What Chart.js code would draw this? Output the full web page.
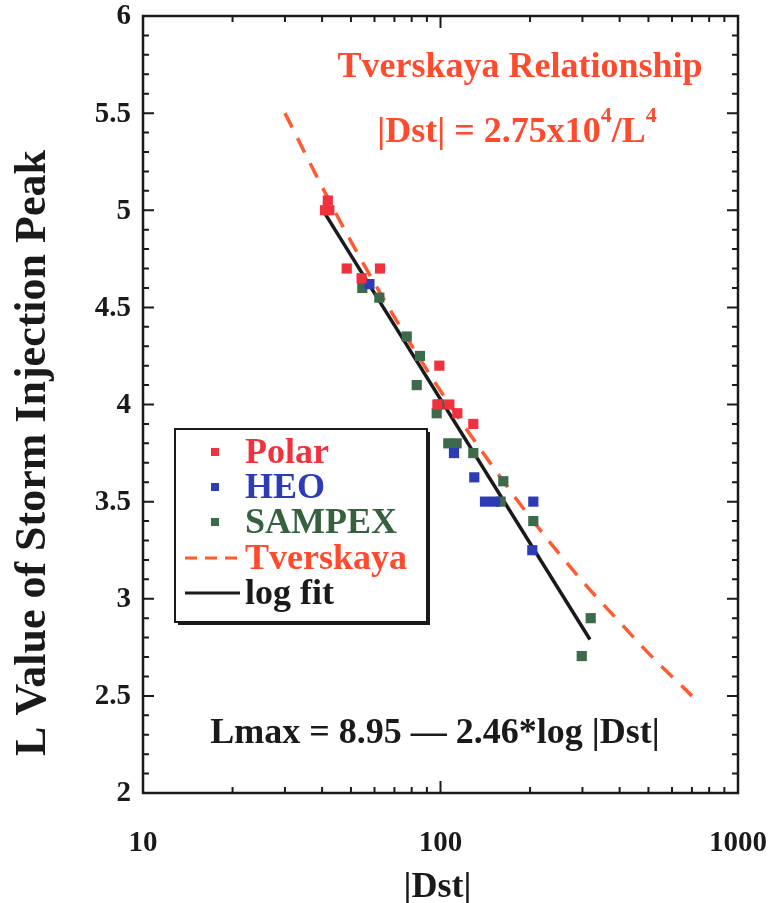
<!DOCTYPE html>
<html>
<head>
<meta charset="utf-8">
<script src="https://cdn.jsdelivr.net/npm/chart.js@4.4.1/dist/chart.umd.min.js"></script>
<style>
  html, body { margin: 0; padding: 0; background: #fff; }
  #wrap { width: 769px; height: 903px; }
</style>
</head>
<body>
<div id="wrap"><canvas id="chart" width="769" height="903"></canvas></div>
<script>
// Storm injection peaks: |Dst| (nT) vs L, one pair of arrays per mission
const polarDst = [40.9, 42.3, 41.8, 48.4, 62.6, 54.3, 99.1, 97.6, 107.1, 113.9, 128.9];
const polarL   = [5.00, 5.00, 5.05, 4.70, 4.70, 4.65, 4.20, 4.00, 4.00, 3.955, 3.90];

const heoDst = [57.7, 111, 129.9, 141.1, 152.5, 205.1, 203.5];
const heoL   = [4.62, 3.75, 3.625, 3.50, 3.50, 3.50, 3.25];

const sampexDst = [54.6, 62.3, 77.0, 85.3, 83.2, 99.1, 97.1, 106.2, 113.3, 128.9, 162.6, 159.3, 205.1, 319.8, 298.4];
const sampexL   = [4.60, 4.55, 4.35, 4.25, 4.10, 4.00, 3.955, 3.80, 3.80, 3.75, 3.605, 3.50, 3.40, 2.90, 2.705];

// Tverskaya relationship |Dst| = 2.75x10^4 / L^4
const tverDst = [30, 40, 50, 70, 100, 150, 200, 300, 400, 500, 700];
const tverL   = [5.50, 5.12, 4.84, 4.45, 4.07, 3.68, 3.42, 3.09, 2.88, 2.72, 2.50];

// log fit Lmax = 8.95 - 2.46*log|Dst|
const fitDst = [41, 318];
const fitL   = [4.98, 2.79];

const xTickValues = [10, 100, 1000];
const xMinorValues = [20, 30, 40, 50, 60, 70, 80, 90, 200, 300, 400, 500, 600, 700, 800, 900];
const yTickLabels = ['2', '2.5', '3', '3.5', '4', '4.5', '5', '5.5', '6'];

const SERIF = '"Liberation Serif", "Times New Roman", serif';
const INK = '#1a1a1a';

const pairs = (xs, ys) => xs.map((x, i) => ({ x: x, y: ys[i] }));

// frame, inward ticks on all four sides, tick labels
const framePlugin = {
  id: 'frame',
  afterDatasetsDraw(chart) {
    const { ctx, chartArea: a, scales } = chart;
    const xs = scales.x, ys = scales.y;
    ctx.save();
    ctx.strokeStyle = INK;
    ctx.lineWidth = 2;
    ctx.beginPath();
    xTickValues.forEach(v => {
      const px = xs.getPixelForValue(v);
      ctx.moveTo(px, a.bottom); ctx.lineTo(px, a.bottom - 12);
      ctx.moveTo(px, a.top); ctx.lineTo(px, a.top + 12);
    });
    xMinorValues.forEach(v => {
      const px = xs.getPixelForValue(v);
      ctx.moveTo(px, a.bottom); ctx.lineTo(px, a.bottom - 6);
      ctx.moveTo(px, a.top); ctx.lineTo(px, a.top + 6);
    });
    for (let i = 1; i < 40; i++) {
      const py = ys.getPixelForValue(2 + i * 0.1);
      const len = i % 5 === 0 ? 11 : 6;
      ctx.moveTo(a.left, py); ctx.lineTo(a.left + len, py);
      ctx.moveTo(a.right, py); ctx.lineTo(a.right - len, py);
    }
    ctx.stroke();
    ctx.lineWidth = 2.5;
    ctx.strokeRect(a.left, a.top, a.right - a.left, a.bottom - a.top);

    ctx.fillStyle = INK;
    ctx.font = 'bold 29px ' + SERIF;
    ctx.textBaseline = 'middle';
    ctx.textAlign = 'right';
    yTickLabels.forEach(t => {
      ctx.fillText(t, a.left - 12, ys.getPixelForValue(Number(t)) + 1);
    });
    ctx.textAlign = 'center';
    xTickValues.forEach(v => {
      ctx.fillText(String(v), xs.getPixelForValue(v), a.bottom + 51);
    });
    ctx.restore();
  }
};

// legend box, annotations and axis titles
const notesPlugin = {
  id: 'notes',
  afterDraw(chart) {
    const { ctx, chartArea: a } = chart;
    ctx.save();
    ctx.textBaseline = 'alphabetic';

    ctx.fillStyle = '#ff4a2e';
    ctx.font = 'bold 36px ' + SERIF;
    ctx.textAlign = 'center';
    ctx.fillText('Tverskaya Relationship', 520, 77);

    // |Dst| = 2.75x10^4/L^4 with superscripts
    const parts = [['|Dst| = 2.75x10', 0], ['4', 1], ['/L', 0], ['4', 1]];
    const big = 'bold 36px ' + SERIF, small = 'bold 22px ' + SERIF;
    let total = 0;
    parts.forEach(p => { ctx.font = p[1] ? small : big; total += ctx.measureText(p[0]).width; });
    let x = 517 - total / 2;
    ctx.textAlign = 'left';
    parts.forEach(p => {
      ctx.font = p[1] ? small : big;
      ctx.fillText(p[0], x, p[1] ? 122 : 142);
      x += ctx.measureText(p[0]).width;
    });

    ctx.fillStyle = INK;
    ctx.font = 'bold 36px ' + SERIF;
    ctx.textAlign = 'center';
    ctx.fillText('Lmax = 8.95 \u2014 2.46*log |Dst|', 435, 743);

    // axis titles
    ctx.fillText('|Dst|', (a.left + a.right) / 2 - 3, 897);
    ctx.save();
    ctx.translate(45, 453);
    ctx.rotate(-Math.PI / 2);
    ctx.font = 'bold 44px ' + SERIF;
    ctx.fillText('L Value of Storm Injection Peak', 0, 0);
    ctx.restore();

    // legend
    const box = { x: 175, y: 429, w: 252, h: 193 };
    ctx.fillStyle = '#fff';
    ctx.fillRect(box.x, box.y, box.w, box.h);
    ctx.strokeStyle = INK;
    ctx.lineWidth = 2;
    ctx.strokeRect(box.x, box.y, box.w, box.h);
    ctx.lineWidth = 3;
    ctx.beginPath();
    ctx.moveTo(box.x + box.w + 1.5, box.y + 3);
    ctx.lineTo(box.x + box.w + 1.5, box.y + box.h + 1.5);
    ctx.lineTo(box.x + 3, box.y + box.h + 1.5);
    ctx.stroke();

    const rows = [452, 487, 522, 558, 593];
    ctx.font = 'bold 36px ' + SERIF;
    ctx.textAlign = 'left';
    ctx.textBaseline = 'middle';
    chart.data.datasets.forEach((ds, i) => {
      const y = rows[i];
      if (ds.showLine) {
        ctx.strokeStyle = ds.borderColor;
        ctx.lineWidth = 3;
        ctx.setLineDash(ds.borderDash && ds.borderDash.length ? [12, 8] : []);
        ctx.beginPath();
        ctx.moveTo(185, y);
        ctx.lineTo(240, y);
        ctx.stroke();
        ctx.setLineDash([]);
      } else {
        ctx.fillStyle = ds.backgroundColor;
        ctx.fillRect(211, y - 4, 8, 8);
      }
      ctx.fillStyle = ds.legendText;
      ctx.fillText(ds.label, 245, y + 2);
    });
    ctx.restore();
  }
};

const marker = { pointStyle: 'rect', pointRadius: 7.2, pointBorderWidth: 0, order: 0 };

new Chart(document.getElementById('chart'), {
  type: 'scatter',
  data: {
    datasets: [
      Object.assign({
        label: 'Polar', data: pairs(polarDst, polarL),
        backgroundColor: '#f0323e', borderColor: '#f0323e', legendText: '#f0323e'
      }, marker),
      Object.assign({
        label: 'HEO', data: pairs(heoDst, heoL),
        backgroundColor: '#2c3cb6', borderColor: '#2c3cb6', legendText: '#2c3cb6'
      }, marker),
      Object.assign({
        label: 'SAMPEX', data: pairs(sampexDst, sampexL),
        backgroundColor: '#3e6a4c', borderColor: '#3e6a4c', legendText: '#36613f'
      }, marker),
      {
        label: 'Tverskaya', data: pairs(tverDst, tverL), order: 1,
        showLine: true, pointRadius: 0, borderColor: '#ff5a30', borderWidth: 3.5,
        borderDash: [16, 12], cubicInterpolationMode: 'monotone', legendText: '#ff4a2e'
      },
      {
        label: 'log fit', data: pairs(fitDst, fitL), order: 1,
        showLine: true, pointRadius: 0, borderColor: '#1a1a1a', borderWidth: 3.5,
        legendText: '#1a1a1a'
      }
    ]
  },
  options: {
    responsive: false,
    animation: false,
    layout: { padding: { top: 16, right: 31, left: 0, bottom: 0 } },
    plugins: { legend: { display: false }, tooltip: { enabled: false } },
    scales: {
      x: {
        type: 'logarithmic', min: 10, max: 1000,
        grid: { display: false, drawTicks: false }, border: { display: false },
        afterBuildTicks: s => { s.ticks = xTickValues.map(v => ({ value: v })); },
        afterFit: s => { s.height = 110; },
        ticks: { display: false }
      },
      y: {
        min: 2, max: 6,
        grid: { display: false, drawTicks: false }, border: { display: false },
        afterFit: s => { s.width = 143; },
        ticks: { display: false, stepSize: 0.5 }
      }
    }
  },
  plugins: [framePlugin, notesPlugin]
});
</script>
</body>
</html>
